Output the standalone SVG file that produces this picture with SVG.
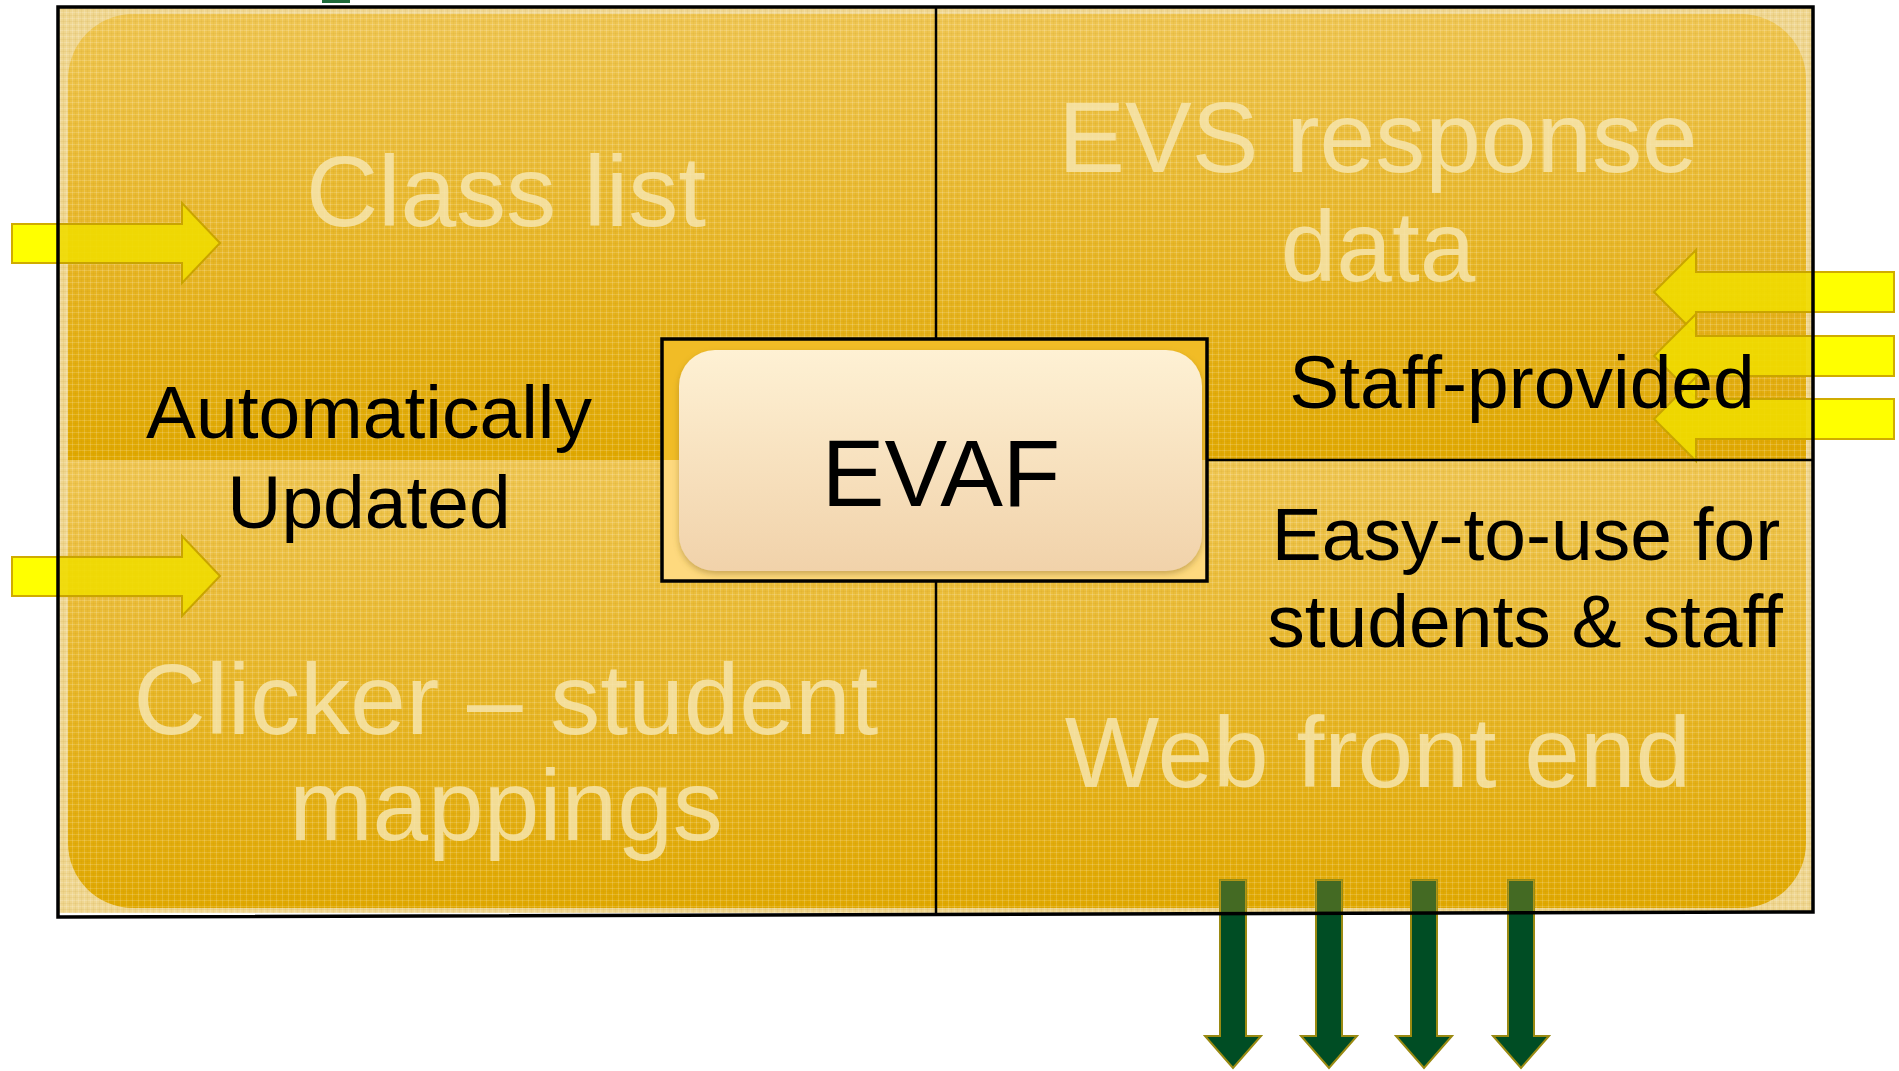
<svg xmlns="http://www.w3.org/2000/svg" width="1899" height="1071" viewBox="0 0 1899 1071">
<style>
.faint{font-family:"Liberation Sans",Arial,sans-serif;font-size:100px;fill:#F6E6B2;fill-opacity:0.82;text-anchor:middle}
.lbl{font-family:"Liberation Sans",Arial,sans-serif;font-size:75px;fill:#000;text-anchor:middle}
.frame{fill:none;stroke:#000;stroke-width:3.5}
.div{stroke:#000;stroke-width:2.5}
.yarr{fill:#F0DC00;fill-opacity:0.9;stroke:#C9A400;stroke-width:2}
.ybright{fill:#FFFF00;stroke:#D0AC00;stroke-width:2}
.garr{fill:#004D24;stroke:#9A8A12;stroke-width:2}
</style>
<defs>
<linearGradient id="quadG" x1="0" y1="0" x2="0" y2="1">
<stop offset="0" stop-color="#EFC653"/>
<stop offset="1" stop-color="#E0A800"/>
</linearGradient>
<linearGradient id="evafG" x1="0" y1="0" x2="0" y2="1">
<stop offset="0" stop-color="#FEF1D4"/>
<stop offset="1" stop-color="#F1D2AA"/>
</linearGradient>
<pattern id="grid" width="6" height="6" patternUnits="userSpaceOnUse">
<path d="M0 0.5H6M0.5 0V6" stroke="#FFFFFF" stroke-opacity="0.16" stroke-width="1"/>
<path d="M0 3.5H6M3.5 0V6" stroke="#B08000" stroke-opacity="0.08" stroke-width="1"/>
</pattern>
<filter id="sh" x="-5%" y="-5%" width="110%" height="115%">
<feDropShadow dx="0" dy="3" stdDeviation="3" flood-color="#8A6A20" flood-opacity="0.45"/>
</filter>
</defs>
<rect width="1899" height="1071" fill="#FFFFFF"/>
<rect x="322" y="0" width="28" height="3" fill="#1E6B3A"/>
<rect x="58" y="7" width="1755" height="906" fill="#EFD690"/>
<g id="node-class-list">
<path d="M68 79 A65 65 0 0 1 133 14 H936 V460 H68 Z" fill="url(#quadG)"/>
</g>
<g id="node-evs-response">
<path d="M936 14 H1741 A65 65 0 0 1 1806 79 V460 H936 Z" fill="url(#quadG)"/>
</g>
<g id="node-clicker">
<path d="M68 460 H936 V908 H133 A65 65 0 0 1 68 843 Z" fill="url(#quadG)"/>
</g>
<g id="node-web">
<path d="M936 460 H1806 V843 A65 65 0 0 1 1741 908 H936 Z" fill="url(#quadG)"/>
</g>
<rect x="58" y="7" width="1755" height="906" fill="url(#grid)"/>
<g id="connectors">
<path class="yarr" d="M12 224 H182 V203 L220 243 L182 283 V263 H12 Z"/>
<path class="yarr" d="M12 557 H182 V536 L220 576 L182 616 V596 H12 Z"/>
<path class="yarr" d="M1894 272 H1696 V250 L1654 292 L1696 334 V312 H1894 Z"/>
<path class="yarr" d="M1894 336 H1696 V314 L1654 356 L1696 398 V376 H1894 Z"/>
<path class="yarr" d="M1894 399 H1696 V377 L1654 419 L1696 461 V439 H1894 Z"/>
<rect class="ybright" x="12" y="224" width="46" height="39"/>
<rect class="ybright" x="12" y="557" width="46" height="39"/>
<rect class="ybright" x="1813" y="272" width="81" height="40"/>
<rect class="ybright" x="1813" y="336" width="81" height="40"/>
<rect class="ybright" x="1813" y="399" width="81" height="40"/>
<path class="garr" d="M1220 880 H1246 V1036 H1261 L1233 1068 L1205 1036 H1220 Z"/>
<path class="garr" d="M1316 880 H1342 V1036 H1357 L1329 1068 L1301 1036 H1316 Z"/>
<path class="garr" d="M1411 880 H1437 V1036 H1452 L1424 1068 L1396 1036 H1411 Z"/>
<path class="garr" d="M1508 880 H1534 V1036 H1549 L1521 1068 L1493 1036 H1508 Z"/>
<g fill="#E0B020" fill-opacity="0.3">
<rect x="1220" y="880" width="26" height="32"/>
<rect x="1316" y="880" width="26" height="32"/>
<rect x="1411" y="880" width="26" height="32"/>
<rect x="1508" y="880" width="26" height="32"/>
</g>
</g>
<line class="div" x1="936" y1="7" x2="936" y2="339"/>
<line class="div" x1="936" y1="581" x2="936" y2="913"/>
<line class="div" x1="1207" y1="460" x2="1813" y2="460"/>
<path class="frame" d="M58 7 H1813 V912 L58 917 Z"/>
<g id="node-evaf">
<rect x="662" y="339" width="545" height="121" fill="#F1BC26"/>
<rect x="662" y="460" width="545" height="121" fill="#FED97E"/>
<rect x="679" y="350" width="523" height="221" rx="36" fill="url(#evafG)" filter="url(#sh)"/>
<rect x="662" y="339" width="545" height="242" fill="none" stroke="#000" stroke-width="3.5"/>
<text x="941" y="506" font-family="Liberation Sans, Arial, sans-serif" font-size="94" text-anchor="middle" fill="#000">EVAF</text>
</g>
<g id="labels">
<text class="faint" x="506" y="226">Class list</text>
<text class="faint" x="1378" y="172">EVS response</text>
<text class="faint" x="1378" y="281">data</text>
<text class="faint" x="506" y="734">Clicker – student</text>
<text class="faint" x="506" y="840">mappings</text>
<text class="faint" x="1378" y="787">Web front end</text>
<text class="lbl" x="369" y="438">Automatically</text>
<text class="lbl" x="369" y="528">Updated</text>
<text class="lbl" x="1522" y="408">Staff-provided</text>
<text class="lbl" x="1526" y="560">Easy-to-use for</text>
<text class="lbl" x="1525" y="647">students &amp; staff</text>
</g>
</svg>
